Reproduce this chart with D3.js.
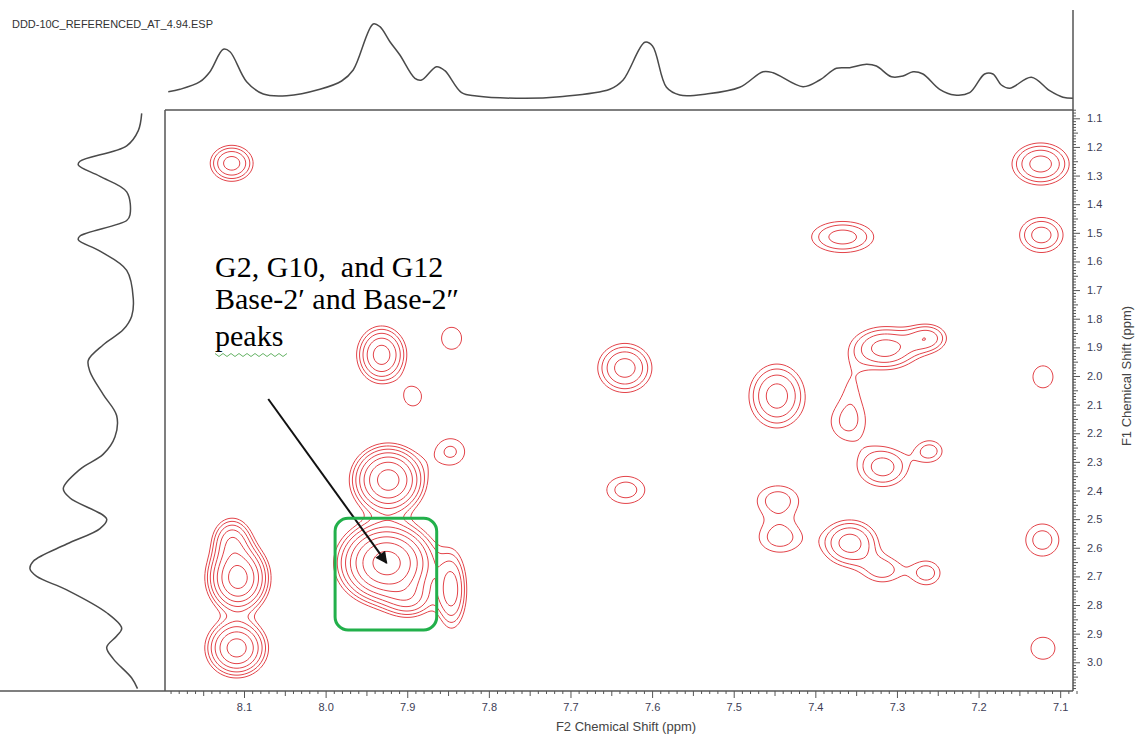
<!DOCTYPE html>
<html>
<head>
<meta charset="utf-8">
<script src="https://cdn.jsdelivr.net/npm/d3@7"></script>
<style>
  body { margin: 0; background: #fff; }
  svg { display: block; }
</style>
</head>
<body>
<svg id="chart" width="1139" height="737"></svg>
<script>
// ---- 2D NOESY-style contour map with F2 / F1 projections ----

const fileTitle = "DDD-10C_REFERENCED_AT_4.94.ESP";

// axis tick values (ppm)
const f2Ticks = [8.1, 8.0, 7.9, 7.8, 7.7, 7.6, 7.5, 7.4, 7.3, 7.2, 7.1];
const f1Ticks = [1.1, 1.2, 1.3, 1.4, 1.5, 1.6, 1.7, 1.8, 1.9, 2.0, 2.1, 2.2, 2.3, 2.4, 2.5, 2.6, 2.7, 2.8, 2.9, 3.0];

// cross peaks: position (ppm), height, line widths (ppm)
const peakF2 = [8.1151, 7.1240, 7.1231, 7.1211, 7.1219, 7.1211, 7.3665, 7.6334, 7.6322, 7.4471,
                7.4459, 7.4434, 7.3577, 7.3173, 7.2634, 7.3173, 7.2597, 7.3602, 7.3148, 7.2622,
                7.3553, 7.9314, 7.8930, 7.8457, 7.8469, 7.9233, 7.9253, 7.8968, 7.8457, 8.1074,
                8.1147, 8.1090];
const peakF1 = [1.2572, 1.2596, 1.5076, 2.0030, 2.5730, 2.9510, 1.5146, 1.9720, 2.3980, 2.0700,
                2.4332, 2.5660, 2.5834, 2.6777, 2.6881, 2.3182, 2.2623, 2.1640, 1.9030, 1.8674,
                2.0314, 1.9262, 2.0720, 1.8684, 2.2645, 2.3633, 2.6530, 2.7820, 2.7476, 2.7057,
                2.5729, 2.9500];
const peakHeight = [3.25, 3.25, 2.32, 1.20, 1.66, 1.20, 2.32, 3.25, 1.66, 3.25,
                    1.66, 1.66, 3.25, 1.66, 1.66, 2.32, 1.66, 1.45, 3.25, 2.32,
                    0.90, 4.54, 1.38, 1.20, 1.50, 8.90, 12.46, 2.32, 3.25, 8.90,
                    3.25, 6.36];
const peakWidthF2 = [0.0171, 0.0228, 0.0205, 0.0203, 0.0201, 0.0243, 0.0293, 0.0216, 0.0231, 0.0223,
                     0.0245, 0.0245, 0.0223, 0.0200, 0.0160, 0.0233, 0.0147, 0.0220, 0.0269, 0.0171,
                     0.0147, 0.0176, 0.0129, 0.0203, 0.0191, 0.0228, 0.0289, 0.0196, 0.0120, 0.0194,
                     0.0147, 0.0203];
const peakWidthF1 = [0.0409, 0.0478, 0.0471, 0.0636, 0.0556, 0.0636, 0.0418, 0.0558, 0.0469, 0.0727,
                     0.0489, 0.0489, 0.0524, 0.0400, 0.0400, 0.0524, 0.0349, 0.0629, 0.0489, 0.0349,
                     0.0699, 0.0580, 0.0402, 0.0636, 0.0503, 0.0618, 0.0699, 0.0419, 0.0866, 0.0629,
                     0.0489, 0.0545];

// contour levels (geometric)
const contourLevels = [1, 1.4, 1.96, 2.74, 3.84, 5.38, 7.53, 10.54, 14.76, 20.66];

// F2 (horizontal) projection
const topShift = [8.1928, 8.1784, 8.1539, 8.1417, 8.1254, 8.1172, 8.0968, 8.0764, 8.0478, 8.0070,
                  7.9804, 7.9662, 7.9417, 7.9335, 7.9212, 7.9090, 7.8906, 7.8824, 7.8641, 7.8539,
                  7.8334, 7.8151, 7.7559, 7.7130, 7.6518, 7.6355, 7.6089, 7.5995, 7.5824, 7.5661,
                  7.5334, 7.4926, 7.4641, 7.4518, 7.4151, 7.3946, 7.3742, 7.3579, 7.3374, 7.3252,
                  7.3068, 7.2926, 7.2803, 7.2681, 7.2477, 7.2293, 7.2109, 7.1926, 7.1824, 7.1721,
                  7.1619, 7.1353, 7.1129, 7.0966, 7.0844];
const topIntensity = [8.3, 10.7, 18.3, 28.3, 50.7, 48.3, 18.3, 6.0, 4.3, 10.7,
                      19.0, 30.0, 76.0, 73.3, 58.3, 45.0, 21.7, 20.0, 33.3, 29.3,
                      7.3, 4.0, 1.7, 3.3, 10.7, 20.0, 57.7, 54.0, 12.7, 5.0,
                      6.0, 12.7, 28.3, 27.3, 13.3, 20.0, 31.7, 32.3, 35.7, 34.0,
                      23.3, 24.0, 28.3, 26.0, 10.7, 5.0, 7.3, 26.0, 26.0, 15.0,
                      11.7, 22.7, 9.3, 2.7, 1.7];

// F1 (vertical) projection
const leftShift = [1.083, 1.143, 1.196, 1.250, 1.263, 1.303, 1.357, 1.437, 1.457, 1.511,
                   1.524, 1.564, 1.631, 1.731, 1.791, 1.838, 1.891, 1.945, 1.985, 2.065,
                   2.139, 2.212, 2.273, 2.326, 2.393, 2.426, 2.500, 2.533, 2.587, 2.647,
                   2.674, 2.700, 2.747, 2.827, 2.881, 2.908, 2.948, 2.988, 3.055, 3.092];
const leftIntensity = [0.3, 3.7, 15.3, 62.0, 63.7, 42.0, 15.3, 12.0, 15.3, 62.0,
                       63.7, 42.0, 15.3, 8.7, 10.3, 18.7, 38.7, 53.7, 52.0, 38.7,
                       25.3, 27.0, 38.7, 62.0, 78.7, 72.0, 35.3, 42.0, 75.3, 108.7,
                       112.0, 105.3, 75.3, 35.3, 20.3, 25.3, 35.3, 28.7, 10.3, 4.5];

// annotation
const noteLines = ["G2, G10,\u00a0 and G12", "Base-2\u2032 and Base-2\u2033", "peaks"];
const arrowFrom = [8.0703, 2.0805];   // F2, F1 (ppm)
const arrowTarget = 26;               // index of the G2 cross peak
const boxF2 = [7.9884, 7.8639];
const boxF1 = [2.497, 2.887];

// ---- layout ----
const svg = d3.select("#chart");
const plot = { left: 165, right: 1073, top: 110, bottom: 691 };
const axisColor = "#555";
const labelColor = "#3d3d55";

const x = d3.scaleLinear().domain([8.1968, 7.0843]).range([plot.left, plot.right]);
const y = d3.scaleLinear().domain([1.0710, 3.1003]).range([plot.top, plot.bottom]);
const yTop = d3.scaleLinear().domain([0, 80]).range([100, 20]);
const xLeft = d3.scaleLinear().domain([0, 120]).range([142, 22]);

svg.append("rect").attr("width", 1139).attr("height", 737).attr("fill", "#fff");

// ---- contour surface ----
const step = 2;
const nx = Math.ceil((plot.right - plot.left) / step) + 1;
const ny = Math.ceil((plot.bottom - plot.top) / step) + 1;
const gridF2 = d3.scaleLinear().domain([0, nx - 1]).range([x.invert(plot.left), x.invert(plot.left + (nx - 1) * step)]);
const gridF1 = d3.scaleLinear().domain([0, ny - 1]).range([y.invert(plot.top), y.invert(plot.top + (ny - 1) * step)]);

const peaks = peakF2.map((f2, i) => ({ f2, f1: peakF1[i], h: peakHeight[i], w2: peakWidthF2[i], w1: peakWidthF1[i] }));
const values = new Float64Array(nx * ny);
for (let j = 0; j < ny; j++) {
  const f1 = gridF1(j);
  for (let i = 0; i < nx; i++) {
    const f2 = gridF2(i);
    let v = 0;
    for (const p of peaks) {
      const a = (f2 - p.f2) / p.w2, b = (f1 - p.f1) / p.w1;
      const e = 0.5 * (a * a + b * b);
      if (e < 30) v += p.h * Math.exp(-e);
    }
    values[i + j * nx] = v;
  }
}

const contours = d3.contours().size([nx, ny]).thresholds(contourLevels)(values);
const toScreen = d3.geoTransform({
  point: function (gx, gy) {
    this.stream.point(x(gridF2(gx - 0.5)), y(gridF1(gy - 0.5)));
  }
});
const contourPath = d3.geoPath(toScreen);

svg.append("clipPath").attr("id", "plotClip")
  .append("rect").attr("x", plot.left).attr("y", plot.top)
  .attr("width", plot.right - plot.left).attr("height", plot.bottom - plot.top);

svg.append("g").attr("clip-path", "url(#plotClip)")
  .selectAll("path").data(contours).join("path")
  .attr("d", contourPath)
  .attr("fill", "none")
  .attr("stroke", "#e3444a")
  .attr("stroke-width", 1)
  .attr("stroke-linejoin", "round");

// ---- frame ----
const frame = svg.append("g").attr("stroke", axisColor).attr("stroke-width", 1.5).attr("fill", "none");
frame.append("line").attr("x1", plot.left).attr("x2", plot.right).attr("y1", plot.top).attr("y2", plot.top);
frame.append("line").attr("x1", plot.left).attr("x2", plot.left).attr("y1", plot.top).attr("y2", plot.bottom);
frame.append("line").attr("x1", 0).attr("x2", plot.right).attr("y1", plot.bottom).attr("y2", plot.bottom);
frame.append("line").attr("x1", plot.right).attr("x2", plot.right).attr("y1", 10).attr("y2", plot.bottom);

// ---- axes ----
const fmt = d3.format(".1f");
const minorF2 = d3.range(Math.round(x.domain()[1] * 100), Math.round(x.domain()[0] * 100) + 1).map(d => d / 100);
const minorF1 = d3.range(Math.round(y.domain()[0] * 100), Math.round(y.domain()[1] * 100) + 1).map(d => d / 100);
const isMajor = v => Math.abs(v * 10 - Math.round(v * 10)) < 1e-6;
const isHalf = v => Math.abs(v * 20 - Math.round(v * 20)) < 1e-6;

function styleAxis(g) {
  g.select(".domain").remove();
  g.selectAll(".tick line").attr("stroke", axisColor).attr("stroke-width", 1);
  g.selectAll(".tick text").attr("fill", labelColor)
    .attr("font-family", "Liberation Sans, Arial, sans-serif").attr("font-size", 11);
}

svg.append("g").attr("transform", `translate(0,${plot.bottom})`)
  .call(d3.axisBottom(x).tickValues(minorF2.filter(v => !isHalf(v))).tickSize(3).tickFormat(""))
  .call(styleAxis);
svg.append("g").attr("transform", `translate(0,${plot.bottom})`)
  .call(d3.axisBottom(x).tickValues(minorF2.filter(v => isHalf(v) && !isMajor(v))).tickSize(5).tickFormat(""))
  .call(styleAxis);
svg.append("g").attr("transform", `translate(0,${plot.bottom})`)
  .call(d3.axisBottom(x).tickValues(f2Ticks).tickSize(7).tickPadding(5).tickFormat(fmt))
  .call(styleAxis);

svg.append("g").attr("transform", `translate(${plot.right},0)`)
  .call(d3.axisRight(y).tickValues(minorF1.filter(v => !isHalf(v))).tickSize(3).tickFormat(""))
  .call(styleAxis);
svg.append("g").attr("transform", `translate(${plot.right},0)`)
  .call(d3.axisRight(y).tickValues(minorF1.filter(v => isHalf(v) && !isMajor(v))).tickSize(5).tickFormat(""))
  .call(styleAxis);
svg.append("g").attr("transform", `translate(${plot.right},0)`)
  .call(d3.axisRight(y).tickValues(f1Ticks).tickSize(7).tickPadding(7).tickFormat(fmt))
  .call(styleAxis);

svg.append("text").attr("x", 626).attr("y", 731).attr("text-anchor", "middle")
  .attr("font-family", "Liberation Sans, Arial, sans-serif").attr("font-size", 13).attr("fill", "#444")
  .text("F2 Chemical Shift (ppm)");
svg.append("text").attr("transform", "translate(1131,376) rotate(-90)").attr("text-anchor", "middle")
  .attr("font-family", "Liberation Sans, Arial, sans-serif").attr("font-size", 13).attr("fill", "#444")
  .text("F1 Chemical Shift (ppm)");

svg.append("text").attr("x", 12).attr("y", 28)
  .attr("font-family", "Liberation Sans, Arial, sans-serif").attr("font-size", 10.5).attr("fill", "#333")
  .attr("textLength", 201).attr("lengthAdjust", "spacingAndGlyphs")
  .text(fileTitle);

// ---- projections ----
const topData = topShift.map((s, i) => ({ s, v: topIntensity[i] }));
svg.append("path").datum(topData)
  .attr("d", d3.line().x(d => x(d.s)).y(d => yTop(d.v)).curve(d3.curveCatmullRom.alpha(0.5)))
  .attr("fill", "none").attr("stroke", "#4a4a4a").attr("stroke-width", 1.5);

const leftData = leftShift.map((s, i) => ({ s, v: leftIntensity[i] }));
svg.append("path").datum(leftData)
  .attr("d", d3.line().x(d => xLeft(d.v)).y(d => y(d.s)).curve(d3.curveCatmullRom.alpha(0.5)))
  .attr("fill", "none").attr("stroke", "#4a4a4a").attr("stroke-width", 1.5);

// ---- annotation ----
const note = svg.append("g").attr("font-family", "Liberation Serif, Times New Roman, serif")
  .attr("font-size", 30).attr("fill", "#000");
const noteBaselines = [277, 309, 346];
noteLines.forEach((t, i) => note.append("text").attr("x", 215).attr("y", noteBaselines[i]).text(t));

// spell-check squiggle under the last line
const squiggle = d3.range(0, 19).map(k => [215 + k * 4, 355 + (k % 2 ? 1.5 : -1.5)]);
svg.append("path").attr("d", d3.line()(squiggle)).attr("fill", "none")
  .attr("stroke", "#3f9f3f").attr("stroke-width", 0.8);

svg.append("defs").append("marker").attr("id", "arrowHead")
  .attr("viewBox", "0 0 10 10").attr("refX", 9).attr("refY", 5)
  .attr("markerWidth", 7).attr("markerHeight", 6).attr("orient", "auto")
  .attr("markerUnits", "strokeWidth")
  .append("path").attr("d", "M0,0 L10,5 L0,10 Z").attr("fill", "#111");

svg.append("line")
  .attr("x1", x(arrowFrom[0])).attr("y1", y(arrowFrom[1]))
  .attr("x2", x(peakF2[arrowTarget])).attr("y2", y(peakF1[arrowTarget]))
  .attr("stroke", "#111").attr("stroke-width", 2)
  .attr("marker-end", "url(#arrowHead)");

svg.append("rect")
  .attr("x", x(boxF2[0])).attr("y", y(boxF1[0]))
  .attr("width", x(boxF2[1]) - x(boxF2[0])).attr("height", y(boxF1[1]) - y(boxF1[0]))
  .attr("rx", 13).attr("ry", 13)
  .attr("fill", "none").attr("stroke", "#22b04b").attr("stroke-width", 3);
</script>
</body>
</html>
